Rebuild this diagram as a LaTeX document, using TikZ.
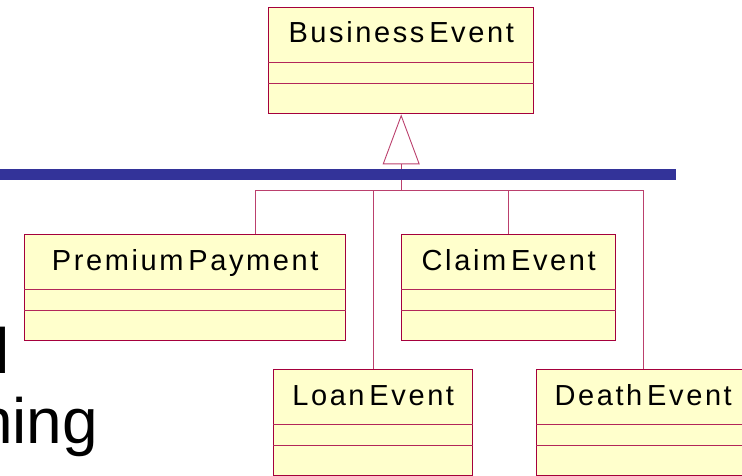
\documentclass[tikz,border=0pt]{standalone}
\usepackage{fontspec}
\setmainfont{Liberation Sans}
\newfontfamily\umlfont[LetterSpace=9]{Liberation Sans}
\usetikzlibrary{positioning}
\usetikzlibrary{calc}
\usetikzlibrary{arrows.meta}
\definecolor{umlred}{RGB}{165,0,60}
\definecolor{umlfill}{RGB}{255,255,204}
\definecolor{slideblue}{RGB}{51,51,153}
\tikzset{cls/.style={draw=umlred, line width=1.4pt, fill=umlfill, anchor=north west, minimum height=106pt, inner sep=0pt}}
\tikzset{clsname/.style={anchor=base, inner sep=0pt, font=\umlfont\fontsize{29}{29}\selectfont}}
\tikzset{sep/.style={draw=umlred!85, line width=0.9pt}}
\tikzset{gen/.style={draw=umlred!75, line width=0.9pt}}
\tikzset{bar/.style={draw=slideblue, line width=11pt}}
\tikzset{slidetext/.style={anchor=base west, inner sep=0pt, font=\fontsize{64}{64}\selectfont}}

\begin{document}
\begin{tikzpicture}[x=1pt, y=-1pt]
\useasboundingbox (0,0) rectangle (742,476);

% slide text behind the diagram
\node[slidetext] (line1) at (-5,373) {l};
\node[slidetext] (line2) at (-23,443) {hing};

% classes
\node[cls, minimum width=265pt] (be) at (268,7) {};
\node[cls, minimum width=321pt] (pp) at (24,234) {};
\node[cls, minimum width=214pt] (ce) at (401,234) {};
\node[cls, minimum width=199pt] (le) at (273,369) {};
\node[cls, minimum width=213pt] (de) at (536,369) {};

\node[clsname] (be-name) at ($(be.north)+(0,36)$) {Business\,Event};
\node[clsname] (pp-name) at ($(pp.north)+(0,36)$) {Premium\,Payment};
\node[clsname] (ce-name) at ($(ce.north)+(0,36)$) {Claim\,Event};
\node[clsname] (le-name) at ($(le.north)+(0,36)$) {Loan\,Event};
\node[clsname] (de-name) at ($(de.north)+(0,36)$) {Death\,Event};

\foreach \c in {be,pp,ce,le,de} {
  \draw[sep] ($(\c.north west)+(0,55)$) -- ($(\c.north east)+(0,55)$);
  \draw[sep] ($(\c.north west)+(0,76)$) -- ($(\c.north east)+(0,76)$);
}

% generalization
\coordinate (bus) at ($(be.south)+(0,76)$);
\coordinate (pp-in) at ($(pp.north west)+(231,0)$);
\draw[gen, -{Triangle[open, length=50pt, width=37pt]}] (bus) -- (be.south);
\draw[gen] (pp-in) |- (bus);
\draw[gen] (le.north) |- (bus);
\draw[gen] (ce.north) |- (bus);
\draw[gen] (de.north) |- (bus);

% slide rule
\coordinate (bar-l) at (0,175);
\coordinate (bar-r) at (676,175);
\draw[bar] (bar-l) -- (bar-r);
\end{tikzpicture}
\end{document}
